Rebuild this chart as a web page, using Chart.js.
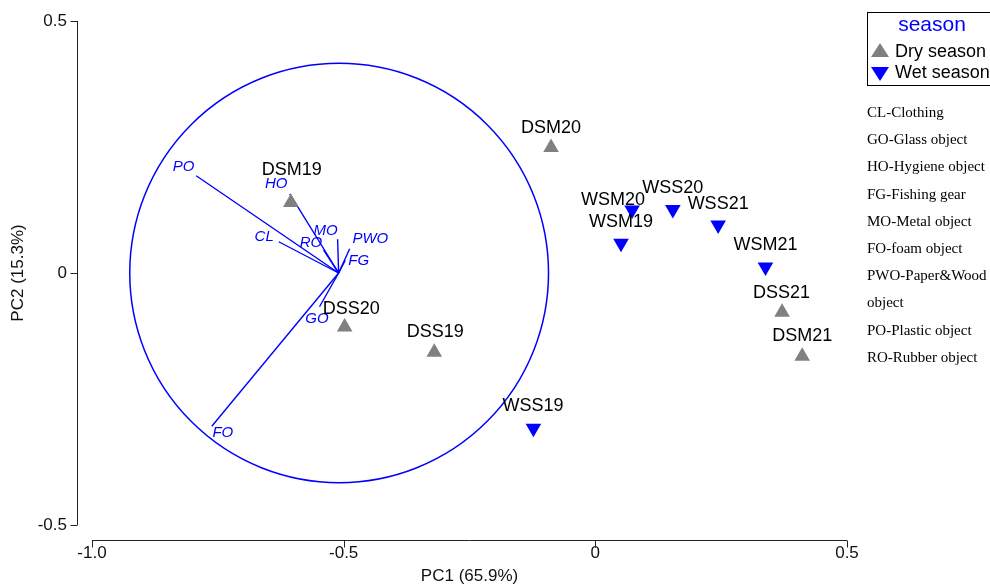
<!DOCTYPE html>
<html>
<head>
<meta charset="utf-8">
<script src="https://cdn.jsdelivr.net/npm/chart.js@4/dist/chart.umd.min.js"></script>
<style>
  html, body { margin: 0; padding: 0; background: #ffffff; }
  #wrap { width: 990px; height: 588px; position: relative; }
</style>
</head>
<body>
<div id="wrap"><canvas id="c" width="990" height="588"></canvas></div>
<script>
// ---------------- data ----------------
const dryNames = ['DSM19', 'DSM20', 'DSS20', 'DSS19', 'DSS21', 'DSM21'];
const dryPC1   = [-0.605, -0.088, -0.498, -0.320, 0.371, 0.411];
const dryPC2   = [0.140, 0.249, -0.107, -0.157, -0.078, -0.165];
const dryLabelPC1 = [-0.603, -0.088, -0.485, -0.318, 0.370, 0.411];
const dryLabelPC2 = [0.204, 0.287, -0.072, -0.118, -0.039, -0.126];

const wetNames = ['WSM20', 'WSS20', 'WSM19', 'WSS21', 'WSM21', 'WSS19'];
const wetPC1   = [0.073, 0.154, 0.051, 0.244, 0.338, -0.123];
const wetPC2   = [0.125, 0.126, 0.059, 0.095, 0.012, -0.308];
const wetLabelPC1 = [0.035, 0.154, 0.051, 0.244, 0.338, -0.124];
const wetLabelPC2 = [0.145, 0.168, 0.101, 0.137, 0.056, -0.264];

const varNames = ['PO', 'HO', 'CL', 'RO', 'MO', 'PWO', 'FG', 'GO', 'FO'];
const varPC1   = [-0.793, -0.607, -0.629, -0.540, -0.512, -0.488, -0.497, -0.548, -0.762];
const varPC2   = [0.193, 0.157, 0.062, 0.046, 0.067, 0.048, 0.025, -0.067, -0.304];
const varLabelPC1 = [-0.818, -0.634, -0.658, -0.565, -0.536, -0.447, -0.470, -0.553, -0.740];
const varLabelPC2 = [0.210, 0.176, 0.072, 0.059, 0.083, 0.067, 0.024, -0.090, -0.318];
const arrowOrigin = [-0.51, 0.0];
const circleCenter = [-0.509, 0.0];
const circleRadius = 0.416;

const xTickValues = [-1.0, -0.5, 0, 0.5];
const xTickLabels = ['-1.0', '-0.5', '0', '0.5'];
const yTickValues = [-0.5, 0, 0.5];
const yTickLabels = ['-0.5', '0', '0.5'];

const xTitle = 'PC1 (65.9%)';
const yTitle = 'PC2 (15.3%)';
const legendTitle = 'season';
const seasonLabels = ['Dry season', 'Wet season'];
const abbrevNotes = ['CL-Clothing', 'GO-Glass object', 'HO-Hygiene object', 'FG-Fishing gear',
  'MO-Metal object', 'FO-foam object', 'PWO-Paper&Wood', 'object', 'PO-Plastic object', 'RO-Rubber object'];

// ---------------- styles ----------------
const GRAY = '#808080';
const BLUE = '#0000ff';
const SANS = '"Liberation Sans", Arial, sans-serif';
const SERIF = '"Liberation Serif", "Times New Roman", serif';

const datasets = [];
datasets.push({
  label: seasonLabels[0],
  data: dryPC1.map((x, i) => ({ x: x, y: dryPC2[i] })),
  pointStyle: 'triangle', pointRadius: 9, pointHoverRadius: 9,
  backgroundColor: GRAY, borderColor: GRAY, borderWidth: 0, showLine: false
});
datasets.push({
  label: seasonLabels[1],
  data: wetPC1.map((x, i) => ({ x: x, y: wetPC2[i] })),
  pointStyle: 'triangle', rotation: 180, pointRadius: 9, pointHoverRadius: 9,
  backgroundColor: BLUE, borderColor: BLUE, borderWidth: 0, showLine: false
});
varNames.forEach((n, i) => {
  datasets.push({
    label: n,
    type: 'line',
    data: [{ x: arrowOrigin[0], y: arrowOrigin[1] }, { x: varPC1[i], y: varPC2[i] }],
    borderColor: BLUE, borderWidth: 1.4, pointRadius: 0, fill: false, tension: 0
  });
});

const decor = {
  id: 'decor',
  beforeDatasetsDraw(chart) {
    const { ctx, scales: { x, y } } = chart;
    const cx = x.getPixelForValue(circleCenter[0]);
    const cy = y.getPixelForValue(circleCenter[1]);
    const rx = Math.abs(x.getPixelForValue(circleCenter[0] + circleRadius) - cx);
    const ry = Math.abs(y.getPixelForValue(circleCenter[1] + circleRadius) - cy);
    ctx.save();
    ctx.strokeStyle = BLUE;
    ctx.lineWidth = 1.5;
    ctx.beginPath();
    ctx.ellipse(cx, cy, rx, ry, 0, 0, Math.PI * 2);
    ctx.stroke();
    ctx.restore();
  },
  afterDatasetsDraw(chart) {
    const { ctx, scales: { x, y } } = chart;
    ctx.save();
    ctx.textAlign = 'center';
    ctx.textBaseline = 'middle';
    ctx.fillStyle = BLUE;
    ctx.font = 'italic 15px ' + SANS;
    varNames.forEach((n, i) => {
      ctx.fillText(n, x.getPixelForValue(varLabelPC1[i]), y.getPixelForValue(varLabelPC2[i]));
    });
    ctx.fillStyle = '#000';
    ctx.font = '18px ' + SANS;
    dryNames.forEach((n, i) => {
      ctx.fillText(n, x.getPixelForValue(dryLabelPC1[i]), y.getPixelForValue(dryLabelPC2[i]));
    });
    wetNames.forEach((n, i) => {
      ctx.fillText(n, x.getPixelForValue(wetLabelPC1[i]), y.getPixelForValue(wetLabelPC2[i]));
    });
    ctx.restore();
  },
  afterDraw(chart) {
    const { ctx, chartArea: ca, scales: { x, y } } = chart;
    ctx.save();
    // R-style axes
    ctx.strokeStyle = '#222';
    ctx.lineWidth = 1;
    const ax = Math.round(ca.left - 15) + 0.5;
    ctx.beginPath();
    ctx.moveTo(ax, y.getPixelForValue(yTickValues[yTickValues.length - 1]));
    ctx.lineTo(ax, y.getPixelForValue(yTickValues[0]));
    yTickValues.forEach(v => {
      const py = Math.round(y.getPixelForValue(v)) + 0.5;
      ctx.moveTo(ax, py); ctx.lineTo(ax - 7, py);
    });
    const ay = Math.round(ca.bottom + 15) + 0.5;
    ctx.moveTo(x.getPixelForValue(xTickValues[0]), ay);
    ctx.lineTo(x.getPixelForValue(xTickValues[xTickValues.length - 1]), ay);
    xTickValues.forEach(v => {
      const px = Math.round(x.getPixelForValue(v)) + 0.5;
      ctx.moveTo(px, ay); ctx.lineTo(px, ay + 7);
    });
    ctx.stroke();

    // legend box
    ctx.strokeStyle = '#000';
    ctx.lineWidth = 1;
    ctx.strokeRect(867.5, 12.5, 200, 73);
    ctx.fillStyle = BLUE;
    ctx.font = '21px ' + SANS;
    ctx.textAlign = 'center';
    ctx.textBaseline = 'middle';
    ctx.fillText(legendTitle, 932, 25);
    ctx.textAlign = 'left';
    ctx.font = '18px ' + SANS;
    // dry triangle
    ctx.fillStyle = GRAY;
    ctx.beginPath();
    ctx.moveTo(880, 43); ctx.lineTo(889, 57); ctx.lineTo(871, 57); ctx.closePath();
    ctx.fill();
    // wet triangle
    ctx.fillStyle = BLUE;
    ctx.beginPath();
    ctx.moveTo(871, 67); ctx.lineTo(889, 67); ctx.lineTo(880, 81); ctx.closePath();
    ctx.fill();
    ctx.fillStyle = '#000';
    ctx.fillText(seasonLabels[0], 895, 52);
    ctx.fillText(seasonLabels[1], 895, 73);

    // abbreviation notes
    ctx.font = '15px ' + SERIF;
    abbrevNotes.forEach((t, i) => {
      ctx.fillText(t, 867, 113 + i * 27.2);
    });
    ctx.restore();
  }
};

const hiddenGrid = { display: true, drawOnChartArea: false, drawTicks: true, color: 'rgba(0,0,0,0)' };

new Chart(document.getElementById('c'), {
  type: 'scatter',
  data: { datasets: datasets },
  options: {
    responsive: false,
    animation: false,
    events: [],
    layout: { padding: { top: 21, right: 143, bottom: 0, left: 0 } },
    plugins: { legend: { display: false }, tooltip: { enabled: false } },
    scales: {
      x: {
        type: 'linear', min: -1.0, max: 0.5,
        grid: Object.assign({}, hiddenGrid, { tickLength: 12 }),
        border: { display: false },
        afterBuildTicks: s => { s.ticks = xTickValues.map(v => ({ value: v })); },
        afterFit: s => { s.height = 63; },
        ticks: {
          padding: 6, color: '#111', font: { family: SANS, size: 17 },
          callback: (v, i) => xTickLabels[i]
        },
        title: { display: true, text: xTitle, color: '#111', font: { family: SANS, size: 17 }, padding: { top: 0, bottom: 1 } }
      },
      y: {
        type: 'linear', min: -0.5, max: 0.5,
        grid: Object.assign({}, hiddenGrid, { tickLength: 17 }),
        border: { display: false },
        afterBuildTicks: s => { s.ticks = yTickValues.map(v => ({ value: v })); },
        afterFit: s => { s.width = 92; },
        ticks: {
          padding: 8, color: '#111', font: { family: SANS, size: 17 },
          callback: (v, i) => yTickLabels[i]
        },
        title: { display: true, text: yTitle, color: '#111', font: { family: SANS, size: 17 }, padding: { top: 8, bottom: 0 } }
      }
    }
  },
  plugins: [decor]
});
</script>
</body>
</html>
